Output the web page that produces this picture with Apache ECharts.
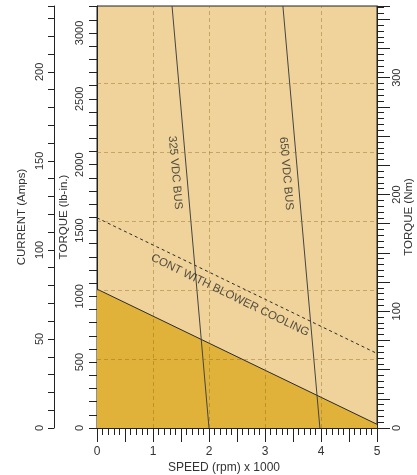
<!DOCTYPE html>
<html>
<head>
<meta charset="utf-8">
<script src="https://cdn.jsdelivr.net/npm/echarts@6/dist/echarts.min.js"></script>
<style>
html,body{margin:0;padding:0;background:#fff;}
#chart{width:417px;height:475px;}
</style>
</head>
<body>
<div id="chart"></div>
<script>
// ---- data ----
const contSpeed = [0, 5];
const contTorque = [1055, 28];            // lb-in, continuous (natural cooling) limit
const blowerSpeed = [0, 5];
const blowerTorque = [1596, 566];         // lb-in, continuous with blower cooling
const bus325Speed = [1.34, 2.0];
const bus325Torque = [3205, 0];
const bus650Speed = [3.32, 3.98];
const bus650Torque = [3205, 0];

// annotations: [speed, torque lb-in]
const labelTexts = ['325 VDC BUS', '650 VDC BUS', 'CONT WITH BLOWER COOLING'];
const labelSpeed = [1.396, 3.379, 2.375];
const labelTorque = [1939, 1932, 1008];
const labelAngle = [-85, -85, -25.9];

// axes
const speedMax = 5;
const torqueLbInMax = 3205;
const currentMax = 237;
const torqueNmMax = 361.4;
const gridMax = 6.125;
const gridSpeeds = [1, 2, 3, 4];
const gridLevels = [1, 2, 3, 4, 5];

const xLabels = ['0', '1', '2', '3', '4', '5'];
const lbInLabels = ['0', '500', '1000', '1500', '2000', '2500', '3000'];
const currentLabels = ['0', '50', '100', '150', '200'];
const nmLabels = ['0', '100', '200', '300'];

function pairs(xs, ys) { return xs.map((x, i) => [x, ys[i]]); }
function labelIf(list) {
  return v => { const s = String(Math.round(v * 1000) / 1000); return list.includes(s) ? s : ''; };
}

const FONT = '"Liberation Sans", Arial, sans-serif';
const AX = '#222';
const TXT = '#333';
const GRIDC = 'rgba(140,100,30,0.42)';

const chart = echarts.init(document.getElementById('chart'), null, { renderer: 'canvas' });
chart.setOption({
  animation: false,
  textStyle: { fontFamily: FONT },
  grid: { left: 97, top: 6, width: 280, height: 422, show: true, outerBoundsMode: 'none',
          containLabel: false,
          backgroundColor: '#EFD39A', borderColor: AX, borderWidth: 1 },
  xAxis: [
    { type: 'value', min: 0, max: speedMax, interval: 0.5, position: 'bottom',
      nameMoveOverlap: false,
      axisLine: { show: true, lineStyle: { color: AX, width: 1 } },
      axisTick: { show: true, length: 14, lineStyle: { color: AX } },
      minorTick: { show: true, splitNumber: 5, length: 7, lineStyle: { color: AX } },
      axisLabel: { margin: 18, fontSize: 12, color: TXT, formatter: labelIf(xLabels) },
      splitLine: { show: false },
      name: 'SPEED (rpm) x 1000', nameLocation: 'middle', nameGap: 34,
      nameTextStyle: { fontSize: 12, color: TXT, padding: [0, 26, 0, 0] } }
  ],
  yAxis: [
    { type: 'value', min: 0, max: torqueLbInMax, interval: 100, position: 'left', offset: 0,
      nameMoveOverlap: false,
      axisLine: { show: true, lineStyle: { color: AX } },
      axisTick: { show: true, length: 8, lineStyle: { color: AX } },
      axisLabel: { rotate: 90, margin: 12, fontSize: 11, color: TXT, formatter: labelIf(lbInLabels) },
      splitLine: { show: false },
      name: 'TORQUE (lb-in.)', nameLocation: 'middle', nameGap: 27,
      nameTextStyle: { fontSize: 11.5, color: TXT } },
    { type: 'value', min: 0, max: currentMax, interval: 10, position: 'left', offset: 43,
      nameMoveOverlap: false,
      axisLine: { show: true, onZero: false, lineStyle: { color: AX } },
      axisTick: { show: true, length: 6, lineStyle: { color: AX } },
      axisLabel: { rotate: 90, margin: 9, fontSize: 11, color: TXT, formatter: labelIf(currentLabels) },
      splitLine: { show: false },
      name: 'CURRENT (Amps)', nameLocation: 'middle', nameGap: 26,
      nameTextStyle: { fontSize: 11.5, color: TXT } },
    { type: 'value', min: 0, max: torqueNmMax, interval: 25, position: 'right', offset: 0,
      nameMoveOverlap: false,
      axisLine: { show: true, onZero: false, lineStyle: { color: AX } },
      axisTick: { show: true, length: 13, lineStyle: { color: AX } },
      minorTick: { show: true, splitNumber: 5, length: 7, lineStyle: { color: AX } },
      axisLabel: { rotate: 90, margin: 14, fontSize: 11, color: TXT, formatter: labelIf(nmLabels) },
      splitLine: { show: false },
      name: 'TORQUE (Nm)', nameLocation: 'middle', nameGap: 26,
      nameTextStyle: { fontSize: 11.5, color: TXT } },
    { type: 'value', min: 0, max: gridMax, interval: 1, position: 'right', show: false }
  ],
  series: [
    { type: 'line', name: 'cont', data: pairs(contSpeed, contTorque), symbol: 'none',
      lineStyle: { color: '#2a2a2a', width: 1 },
      areaStyle: { color: '#E0B23A', opacity: 1, origin: 'start' }, z: 1 },
    { type: 'line', name: 'grid', data: [], yAxisIndex: 3, z: 3, silent: true,
      markLine: { silent: true, symbol: 'none', label: { show: false },
        lineStyle: { color: GRIDC, type: [4, 3], width: 1 },
        data: gridSpeeds.map(v => ({ xAxis: v })).concat(gridLevels.map(v => ({ yAxis: v }))) } },
    { type: 'line', name: 'blower', data: pairs(blowerSpeed, blowerTorque), symbol: 'none',
      lineStyle: { color: '#2a2a2a', width: 1, type: [3, 3] }, z: 4 },
    { type: 'line', name: '325', data: pairs(bus325Speed, bus325Torque), symbol: 'none',
      lineStyle: { color: '#444', width: 1 }, z: 4 },
    { type: 'line', name: '650', data: pairs(bus650Speed, bus650Torque), symbol: 'none',
      lineStyle: { color: '#444', width: 1 }, z: 4 },
    { type: 'scatter', name: 'labels', symbolSize: 0, z: 5,
      data: labelTexts.map((t, i) => ({
        value: [labelSpeed[i], labelTorque[i]],
        label: { show: true, position: 'inside', formatter: t, rotate: labelAngle[i],
                 fontSize: 11.5, color: '#2a2a2a', fontFamily: FONT }
      })) }
  ]
});
</script>
</body>
</html>
